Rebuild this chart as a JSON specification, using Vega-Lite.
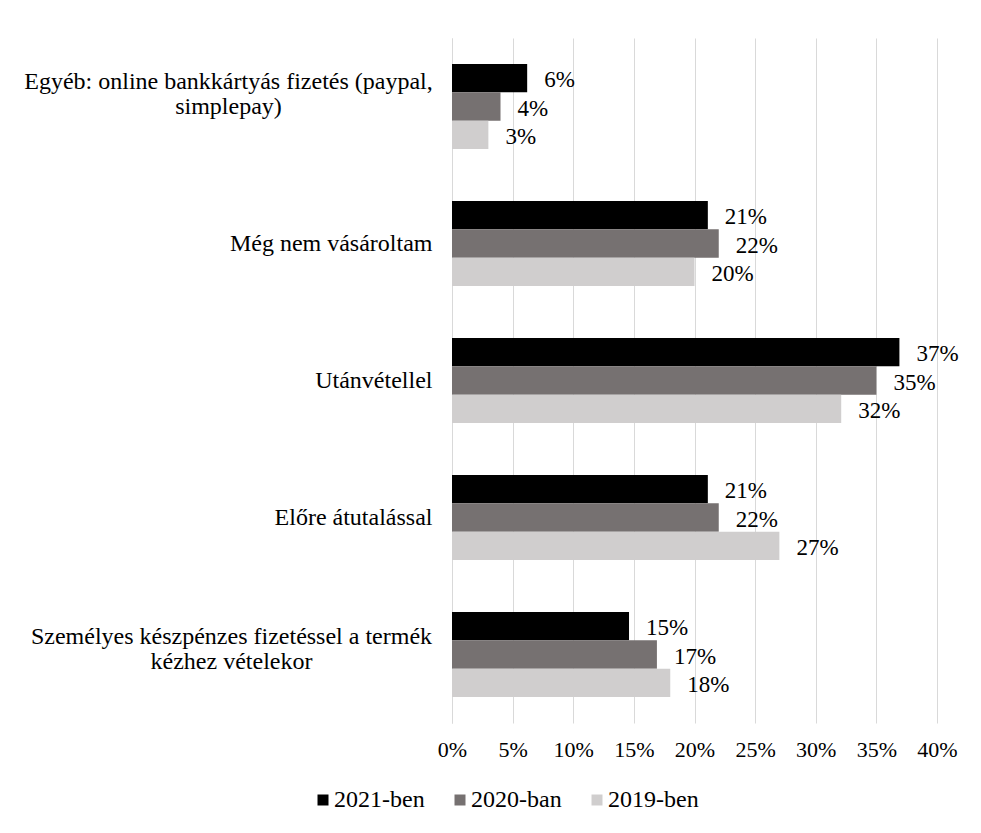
{
  "$schema": "https://vega.github.io/schema/vega-lite/v6.json",
  "width": 485,
  "height": 685,
  "autosize": "none",
  "padding": {"left": 452, "top": 38, "right": 44, "bottom": 110},
  "background": "white",
  "config": {"view": {"stroke": null}, "font": "Liberation Serif"},
  "data": {
    "values": [
      {"cat": "Egyéb: online bankkártyás fizetés (paypal, simplepay)", "year": "2021-ben", "v": 0.062},
      {"cat": "Egyéb: online bankkártyás fizetés (paypal, simplepay)", "year": "2020-ban", "v": 0.040},
      {"cat": "Egyéb: online bankkártyás fizetés (paypal, simplepay)", "year": "2019-ben", "v": 0.030},
      {"cat": "Még nem vásároltam", "year": "2021-ben", "v": 0.211},
      {"cat": "Még nem vásároltam", "year": "2020-ban", "v": 0.220},
      {"cat": "Még nem vásároltam", "year": "2019-ben", "v": 0.200},
      {"cat": "Utánvétellel", "year": "2021-ben", "v": 0.369},
      {"cat": "Utánvétellel", "year": "2020-ban", "v": 0.350},
      {"cat": "Utánvétellel", "year": "2019-ben", "v": 0.321},
      {"cat": "Előre átutalással", "year": "2021-ben", "v": 0.211},
      {"cat": "Előre átutalással", "year": "2020-ban", "v": 0.220},
      {"cat": "Előre átutalással", "year": "2019-ben", "v": 0.270},
      {"cat": "Személyes készpénzes fizetéssel a termék kézhez vételekor", "year": "2021-ben", "v": 0.146},
      {"cat": "Személyes készpénzes fizetéssel a termék kézhez vételekor", "year": "2020-ban", "v": 0.169},
      {"cat": "Személyes készpénzes fizetéssel a termék kézhez vételekor", "year": "2019-ben", "v": 0.180}
    ]
  },
  "encoding": {
    "y": {
      "field": "cat",
      "type": "nominal",
      "sort": null,
      "scale": {"paddingInner": 0.38, "paddingOuter": 0.19},
      "axis": {
        "title": null,
        "ticks": false,
        "grid": false,
        "domain": true,
        "domainColor": "#d9d9d9",
        "domainWidth": 1,
        "labelFont": "Liberation Serif",
        "labelFontSize": 24,
        "labelColor": "#000000",
        "labelLimit": 0,
        "labelLineHeight": 25,
        "labelExpr": "datum.value == 'Egyéb: online bankkártyás fizetés (paypal, simplepay)' ? ['Egyéb: online bankkártyás fizetés (paypal,', 'simplepay)'] : datum.value == 'Személyes készpénzes fizetéssel a termék kézhez vételekor' ? ['Személyes készpénzes fizetéssel a termék', 'kézhez vételekor'] : datum.value",
        "labelAlign": {
          "condition": {"test": "indexof(datum.value, 'Egyéb') == 0 || indexof(datum.value, 'Személyes') == 0", "value": "center"},
          "value": "right"
        },
        "labelPadding": {
          "condition": [
            {"test": "indexof(datum.value, 'Egyéb') == 0", "value": 224},
            {"test": "indexof(datum.value, 'Személyes') == 0", "value": 221}
          ],
          "value": 20
        },
        "labelOffset": {
          "condition": [
            {"test": "indexof(datum.value, 'Egyéb') == 0", "value": -25},
            {"test": "indexof(datum.value, 'Személyes') == 0", "value": -18}
          ],
          "value": 0
        }
      }
    },
    "yOffset": {
      "field": "year",
      "type": "nominal",
      "sort": ["2021-ben", "2020-ban", "2019-ben"],
      "scale": {"paddingInner": 0, "paddingOuter": 0}
    },
    "x": {
      "field": "v",
      "type": "quantitative",
      "scale": {"domain": [0, 0.4], "nice": false},
      "axis": {
        "title": null,
        "format": ".0%",
        "values": [0, 0.05, 0.1, 0.15, 0.2, 0.25, 0.3, 0.35, 0.4],
        "grid": true,
        "gridColor": "#d9d9d9",
        "gridWidth": 1,
        "domain": false,
        "ticks": false,
        "labelFont": "Liberation Serif",
        "labelFontSize": 22,
        "labelColor": "#000000",
        "labelPadding": 16,
        "labelFlush": false
      }
    }
  },
  "layer": [
    {
      "mark": {"type": "bar"},
      "encoding": {
        "color": {
          "field": "year",
          "type": "nominal",
          "sort": ["2021-ben", "2020-ban", "2019-ben"],
          "scale": {"domain": ["2021-ben", "2020-ban", "2019-ben"], "range": ["#000000", "#767171", "#d0cece"]},
          "legend": {
            "title": null,
            "orient": "none",
            "direction": "horizontal",
            "legendX": -141,
            "legendY": 750,
            "symbolType": "square",
            "symbolSize": 121,
            "symbolStrokeWidth": 0,
            "labelFont": "Liberation Serif",
            "labelFontSize": 24,
            "labelColor": "#000000",
            "labelOffset": -1,
            "columnPadding": 23,
            "labelLimit": 0
          }
        }
      }
    },
    {
      "mark": {"type": "text", "align": "left", "baseline": "middle", "dx": 17, "dy": 2, "font": "Liberation Serif", "fontSize": 23, "color": "#000000"},
      "encoding": {
        "text": {"field": "v", "type": "quantitative", "format": ".0%"}
      }
    }
  ]
}
